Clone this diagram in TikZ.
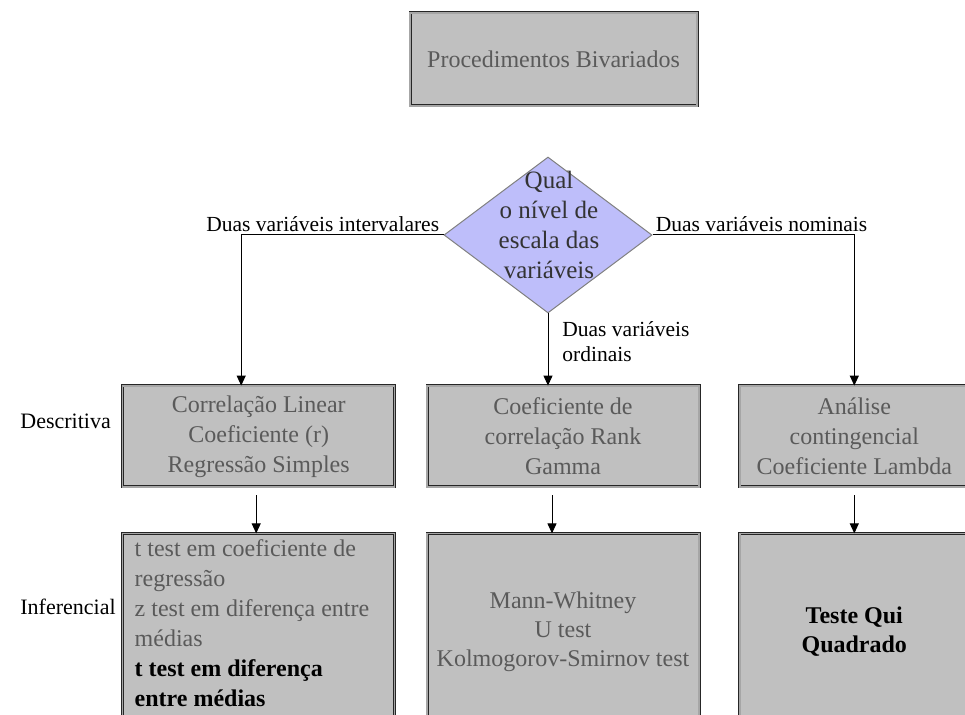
\documentclass[tikz,border=0pt]{standalone}
\usepackage{fontspec}
\setmainfont{Liberation Serif}
\usetikzlibrary{shapes.geometric,arrows.meta,positioning}
\definecolor{prata}{RGB}{192,192,192}
\definecolor{lilas}{RGB}{190,190,250}
\definecolor{cinzatexto}{RGB}{90,90,90}
\newcommand{\negrito}[1]{\textcolor{black}{\bfseries #1}}

\begin{document}
\begin{tikzpicture}[x=0.5pt,y=-0.5pt,
   caixa/.style={rectangle,fill=prata,draw=black!85,line width=0.4pt,double=gray!70,double distance=0.7pt,
      text=cinzatexto,font=\fontsize{12}{15}\selectfont,align=center,inner sep=0pt,
      minimum width=136pt,minimum height=50.5pt},
   caixa alta/.style={caixa,minimum height=98pt,font=\fontsize{12}{14.5}\selectfont},
   losango/.style={diamond,fill=lilas,draw=gray,line width=0.5pt,inner sep=0pt,
      minimum width=104pt,minimum height=78pt},
   nivel/.style={font=\fontsize{10.75}{12.5}\selectfont,inner sep=0pt},
   linha/.style={font=\fontsize{11}{14}\selectfont,inner sep=0pt,anchor=west},
   seta/.style={-{Triangle[length=5pt,width=4.5pt]},line width=0.5pt}]

  \useasboundingbox (0,0) rectangle (965,715);

  \node[caixa,minimum width=143.5pt,minimum height=46.5pt] (titulo) at (553.5,59.5) {Procedimentos Bivariados};

  \node[losango] (qual) at (548,235) {};
  \node[font=\fontsize{12.5}{15}\selectfont,text=black!80,align=center,inner sep=0pt] (pergunta)
     at (549,225) {Qual\\o nível de\\escala das\\variáveis};

  % linha descritiva
  \node[caixa] (desc2) at (563,436.5) {Coeficiente de\\correlação Rank\\Gamma};
  \node[caixa] (desc1) [left=15.75pt of desc2] {Correlação Linear\\Coeficiente (r)\\Regressão Simples};
  \node[caixa,minimum width=114.5pt] (desc3) [right=20pt of desc2] {Análise\\contingencial\\Coeficiente Lambda};

  % linha inferencial
  \node[caixa alta,text width=124pt,align=flush left,font=\fontsize{12}{15}\selectfont] (inf1) [below=23pt of desc1]
     {t test em coeficiente de\\regressão\\z test em diferença entre\\médias\\\negrito{t test em diferença}\\\negrito{entre médias}\par\vspace{9pt}};
  \node[caixa alta] (inf2) [below=23pt of desc2] {Mann-Whitney\\U test\\Kolmogorov-Smirnov test};
  \node[caixa alta,minimum width=114.5pt] (inf3) [below=23pt of desc3] {\negrito{Teste Qui}\\\negrito{Quadrado}};

  \node[linha] (descritiva) at (20,421) {Descritiva};
  \node[linha] (inferencial) at (20,607) {Inferencial};

  \draw[seta] (qual.west) -| ([xshift=-8.75pt]desc1.north);
  \draw[seta] (qual.east) -| (desc3.north);
  \draw[seta] (qual.south) -- (qual.south |- desc2.north);
  \foreach \de/\para/\dx in {desc1/inf1/-1.25pt,desc2/inf2/-5.5pt,desc3/inf3/0pt}
    \draw[seta] ([xshift=\dx,yshift=-4pt]\de.south) -- ([xshift=\dx]\para.north);

  \node[nivel,anchor=base east] (intervalares) at ([xshift=-2pt,yshift=1.5pt]qual.west) {Duas variáveis intervalares};
  \node[nivel,anchor=base west] (nominais) at ([xshift=1.5pt,yshift=1.5pt]qual.east) {Duas variáveis nominais};
  \node[nivel,anchor=north west,align=left] (ordinais) at ([xshift=7pt,yshift=-4pt]qual.south) {Duas variáveis\\ordinais};
\end{tikzpicture}
\end{document}
